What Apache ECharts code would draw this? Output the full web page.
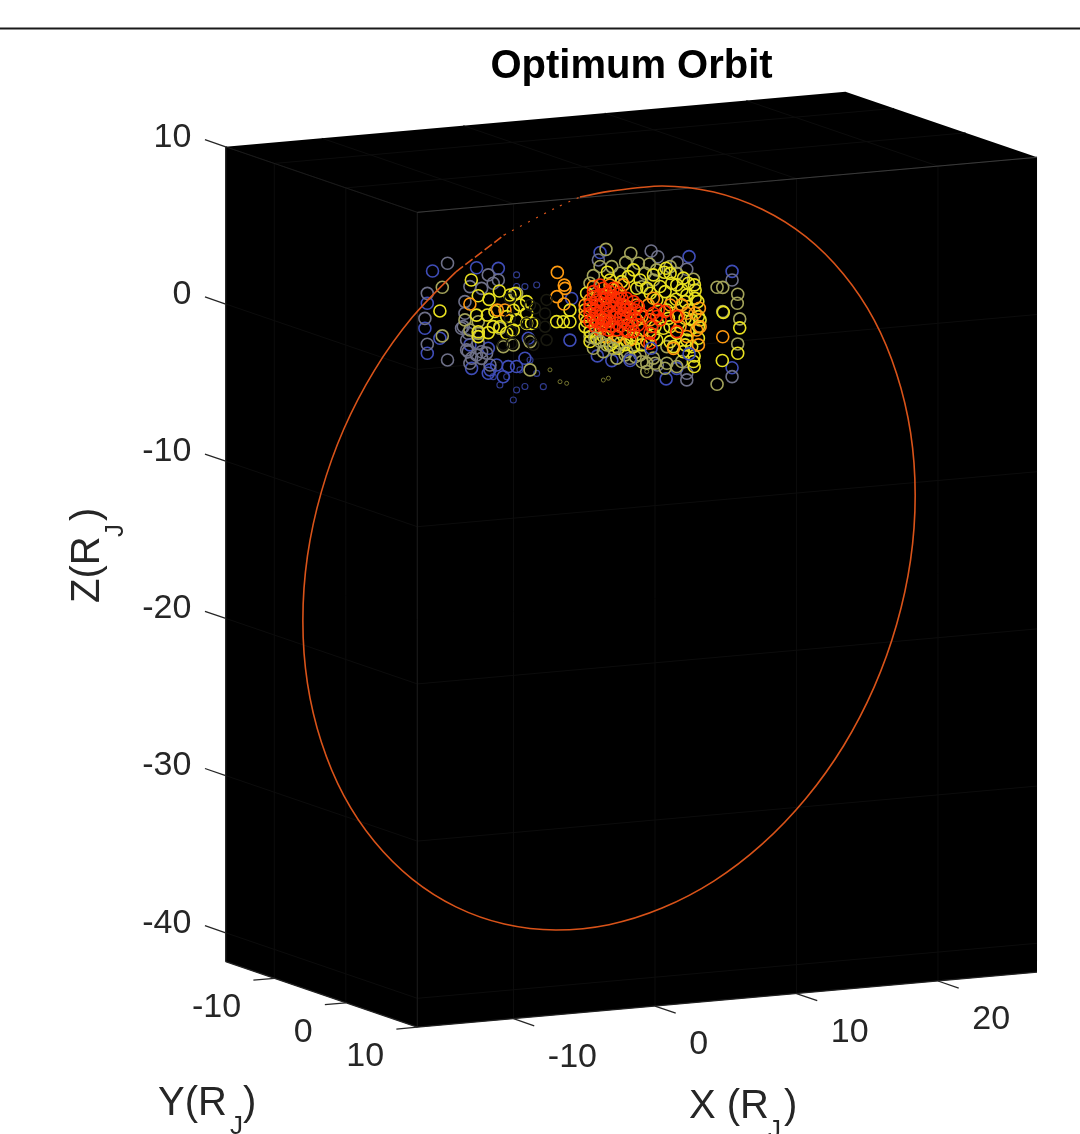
<!DOCTYPE html>
<html><head><meta charset="utf-8">
<style>html,body{margin:0;padding:0;background:#fff}#c{width:1080px;height:1134px}</style>
<script src="https://cdn.jsdelivr.net/npm/echarts@6/dist/echarts.min.js"></script>
</head><body><div id="c"></div>
<script>
// Axis limits and ticks, R_J
const xLim = [-16.8, 27], yLim = [-16.8, 10], zLim = [-41.84, 10];
const xTicks = [-10, 0, 10, 20], yTicks = [-10, 0, 10], zTicks = [10, 0, -10, -20, -30, -40];

// Orbit [X, Y, Z], R_J
const orbit = [[-0.21,-0.08,8.08],[1.5,0.6,8.41],[4.62,1.85,8.7],[7.66,3.06,8.26],[10.5,4.2,7.11],[13.07,5.23,5.32],[15.29,6.12,2.89],[17.09,6.84,-0.06],[18.41,7.36,-3.49],[19.23,7.69,-7.25],[19.5,7.8,-11.24],[19.23,7.69,-15.35],[18.41,7.36,-19.45],[17.09,6.84,-23.39],[15.29,6.12,-27.1],[13.07,5.23,-30.42],[10.5,4.2,-33.28],[7.66,3.06,-35.58],[4.62,1.85,-37.24],[1.5,0.6,-38.24],[-1.62,-0.65,-38.52],[-4.66,-1.86,-38.09],[-7.5,-3,-36.95],[-10.07,-4.03,-35.14],[-12.29,-4.92,-32.71],[-14.09,-5.64,-29.76],[-15.41,-6.16,-26.34],[-16.23,-6.49,-22.57],[-16.5,-6.6,-18.58],[-16.23,-6.49,-14.47],[-15.41,-6.16,-10.39],[-14.09,-5.64,-6.43],[-12.29,-4.92,-2.73],[-10.07,-4.03,0.6],[-7.5,-3,3.45]];
const orbitBroken = [[-7.5,-3,3.45],[-4.66,-1.86,5.75]];
const orbitFaint = [[-4.66,-1.86,5.75],[-1.62,-0.65,7.42],[-0.21,-0.08,8.08]];

// Belt samples [X, Z] in R_J at Y = 0, grouped by intensity
const blueRings = [[1.17,4.45],[7.46,3.69],[10.5,2.51],[10.5,-3.62],[2,-2.49],[0.98,-2.11],[5.84,-3.96],[6.59,-3.35],[-10.67,4.22],[-11.04,2.2],[-11.21,0.62],[-11.04,-0.98],[-7.56,4.18],[-6.02,4.02],[-6.73,-2.6],[-7.91,-2.19],[-6.14,-2.12],[-5.32,-2.29],[-3.9,-0.6],[-8.03,-0.69],[-10.15,-0.1],[-0.84,1.69],[-0.96,-0.95],[-6.73,-1.01],[-5.67,-2.9],[-4.73,-2.33],[-4.14,-1.85],[-6.61,-2.39]];
const grayRings = [[1.05,3.99],[4.78,4.26],[5.25,3.86],[6.61,3.39],[7.3,2.9],[10.5,1.96],[10.5,-4.19],[5.22,-3.03],[7.3,-3.72],[7.3,-4.14],[3.29,-2.44],[-9.61,4.63],[-11.04,2.83],[-11.21,1.25],[-11.04,-0.41],[-9.61,-1.52],[-6.73,3.66],[-6.38,3.1],[-7.2,2.84],[-8.03,3.02],[-8.03,-1.86],[-7.2,-1.19],[-8.26,-0.36],[-8.5,0.51],[-8.38,2.09],[-7.44,-0.64],[-7.56,-1.37],[-8.15,-1.11],[-6.85,-1.31],[-8.38,1.35],[-8.62,0.42],[-8.15,0.06],[-8.26,-0.99],[-7.91,-1.55],[-7.2,-1.61],[-6.61,-2.08],[-6.02,3.28]];
const oliveRings = [[1.59,4.62],[1.17,3.56],[2,3.49],[0.7,3.02],[3.34,4.23],[2.98,3.68],[4.66,3.44],[4.35,2.87],[4.94,2.4],[6.59,2.69],[7.77,2.22],[10.9,1.02],[10.87,0.45],[11.04,-0.56],[10.9,-2.14],[9.44,1.58],[9.84,1.54],[9.44,-4.59],[9.84,0],[0.46,-0.84],[0.7,-1.6],[2.58,-1.43],[2.94,-2.2],[3.65,-2.37],[4.12,-2.73],[4.47,-2.85],[4.47,-3.38],[4.94,-2.57],[5.89,-2.97],[6.59,-3.23],[5.89,-1.91],[4.12,2.04],[0.46,2.55],[-9.98,3.13],[-9.98,0.04],[-8.38,0.93],[-7.44,0],[-8.03,0.26],[-7.44,0.74],[-4.73,2.33],[-5.91,0.2],[-4.96,-0.94],[-3.78,-0.82],[-5.67,-0.99],[2.58,3.02],[3.88,3.55],[5.17,3.03],[6.12,3.16],[1.4,-1.87],[2.35,-2.36],[0.81,-0.65],[4,-2.29],[5.06,-2.9],[5.76,-3.28],[6.94,-2.94],[-3.78,-2.62]];
const yellowRings = [[1.69,3.16],[3.53,3.16],[3.17,2.76],[4.94,2.73],[5.84,3.08],[5.7,2.84],[7.06,2.35],[7.84,1.86],[7.89,1.53],[6.24,2.09],[6.95,1.61],[5.77,1.6],[7.3,1.27],[6.54,1.05],[8.08,0.78],[7.42,0.3],[5.89,0.42],[7.82,-2.66],[7.82,-3.33],[8.12,-1.56],[11.04,-1.13],[10.9,-2.73],[9.88,-0.05],[9.81,-3.11],[3.76,1.97],[1.64,1.61],[5.18,1.12],[4.72,1.58],[5.65,-0.72],[5.06,-0.57],[6.59,-1.11],[7.42,-0.97],[8.24,-0.4],[7.3,-1.6],[6.36,-1.95],[7.06,-2.32],[7.65,-2.05],[5.18,-1.43],[3.76,-1.21],[3.05,-1.36],[1.4,-0.91],[0.46,-0.52],[0.22,0.14],[0.11,0.88],[0.22,1.94],[1.88,-1.48],[2.46,-1.74],[0.93,-0.98],[3.53,-1.72],[3.76,-0.04],[3.17,-0.31],[1.64,0.02],[1.05,0.07],[6.12,-0.66],[7.18,-0.21],[4,2.48],[4.47,1.92],[5.41,1.95],[6.12,2.73],[6.59,1.96],[7.41,2],[7.18,0.85],[7.89,1],[6.23,0.92],[6,-0.12],[7.65,-0.35],[8.12,-0.82],[8.12,-0.18],[7.18,-1.9],[6.12,-1.61],[7.77,-3.01],[4.94,-1.09],[4.12,-1.66],[3.41,-1.18],[2.94,-1.56],[2.11,-1.29],[0.46,-1.15],[0.11,-0.18],[2.7,2.48],[1.87,2.65],[-10.15,1.64],[-7.93,3.43],[-7.44,2.39],[-6.68,2.1],[-5.95,2.57],[-5.2,2.26],[-6.8,1.11],[-7.56,1.17],[-6.73,-0.01],[-5.91,0.3],[-4.96,0.01],[-5.43,0.9],[-4.02,1.74],[-7.44,0.1],[-1.9,0.3],[-1.43,0.26],[-0.96,0.22],[-0.96,0.96],[-7.44,-0.21],[-5.43,-0.16],[-6.38,0.34],[-4.02,1],[-4.02,0.36],[-3.67,0.33],[-4.49,1.57],[-6.26,1.29],[-4.96,1.28],[-4.73,0.64],[-4.85,2.33]];
const orangeRings = [[9.84,-1.6],[8.19,0.35],[8.12,-1.98],[0.7,2.33],[2.35,2.09],[6.71,-0.02],[4.58,0.85],[4.94,1.24],[7.3,0.1],[6.82,-0.71],[4.47,-1.47],[6.36,-2.06],[8.24,-0.83],[4.7,-0.11],[0.46,1.5],[3.05,0.86],[3.76,0.91],[1.4,0.15],[3.29,-1.28],[2.35,-0.98],[7.3,-1.38],[7.89,0.05],[8,-1.02],[0.11,1.2],[0.11,0.46],[1.64,-0.93],[4.12,0.14],[4.12,-0.71],[2.82,2.26],[1.87,2.33],[6.12,0.72],[6.94,0.66],[-1.85,3.43],[-1.36,2.58],[-1.88,1.89],[-1.38,1.38],[-8.03,1.91],[-5.55,1.33],[-6.09,1.37],[-1.31,2.37]];
const redRings = [[1.17,2.39],[0.7,1.69],[1.17,1.76],[1.64,1.82],[2.11,1.57],[2.58,1.75],[3.05,1.39],[3.53,1.14],[3.88,0.79],[0.46,1.18],[0.93,1.14],[1.4,1.21],[1.87,1.06],[2.35,1.13],[2.82,0.99],[3.29,0.74],[0.46,0.65],[0.93,0.61],[1.4,0.67],[1.87,0.53],[2.35,0.6],[2.82,0.46],[3.29,0.42],[0.46,0.12],[0.93,0.08],[1.4,-0.07],[1.87,0],[2.35,-0.14],[2.82,-0.07],[3.41,-0.33],[3.88,-0.37],[1.17,-0.47],[1.76,-0.52],[2.35,-0.56],[2.94,-0.62],[3.53,-0.77],[5.29,0.47],[4.94,0.29],[5.41,-0.17],[4.82,-0.55],[6.59,-0.05],[6.59,-1.01],[4.7,-1.6],[5.76,0.33],[0.7,2],[1.4,2.16],[2.11,2.1],[2.7,1.42],[0.81,0.83],[1.64,0.87],[2.58,0.8],[0.7,0.31],[1.52,0.31],[2.23,0.25],[3.05,0.19],[0.95,1.45],[1.52,1.51],[2,1.33],[2.46,1.44],[2.94,0.66],[3.64,0.07],[0.81,-0.23],[1.29,-0.16],[2,-0.33],[2.58,-0.37],[3.17,-0.74],[4,0.36],[1.17,0.38],[2.58,0.23],[5.17,0.06],[4.7,-0.96],[0.46,0.93],[3.64,0.6],[1.87,1.91]];
const darkRings = [[-5.2,2.04],[-5.2,0.77],[-5.08,-0.09],[-3.78,1.51],[-3.43,1.27],[-4.02,0.36],[-3.43,0.31],[-3.78,-0.72],[-2.61,1.74],[-2.72,0.89],[-2.72,0.04],[-2.61,-0.81],[-5.67,-0.88],[-5.08,-0.83],[-3.55,-1.05]];
const topBlue = [[4.78,-1.93],[7.46,-2.5],[3.29,-2.59]];
const topOlive = [[0.81,-0.97],[1.17,-1.21],[1.64,-1.46],[2.11,-1.72],[3.05,-2]];
const smallBlue = [[-4.73,3.5],[-4.14,2.71],[-3.31,2.74],[-4.73,2.76],[-4.14,-3.65],[-4.73,-3.82],[-4.96,-4.44],[-5.43,-2.92],[-4.49,-2.56],[-3.78,-1.99],[-3.31,-2.88],[-2.84,-3.76],[-5.91,-3.41],[-6.38,-2.84]];
const smallOlive = [[-2.37,-2.73],[-1.66,-3.54],[-1.19,-3.68],[1.4,-3.68],[1.76,-3.59],[4.47,-3.38]];

// Text
const titleText = 'Optimum Orbit';

// Projection of the MATLAB-style 3D view onto a view plane (still in R_J)
const proj = (X, Y, Z) => [X + 0.5053 * Y, Z + 0.0799 * X - 0.1555 * Y];
const ring = a => a.map(p => proj(p[0], 0, p[1]));
const FONT = '"Liberation Sans", Arial, Helvetica, sans-serif';

const [x0, x1] = xLim, [y0, y1] = yLim, [z0, z1] = zLim;
const silhouette = [proj(x0,y0,z0), proj(x0,y1,z0), proj(x1,y1,z0), proj(x1,y1,z1), proj(x1,y0,z1), proj(x0,y0,z1)];

const seg = (a, b) => [...proj(...a), ...proj(...b)];
const gridSegs = [], edgeSegs = [], tickSegs = [], brightSegs = [];
zTicks.forEach(z => {
  gridSegs.push(seg([x0,y0,z],[x0,y1,z]), seg([x0,y1,z],[x1,y1,z]));
  tickSegs.push(seg([x0,y0,z],[x0,y0-2.9,z]));
});
yTicks.forEach(y => {
  gridSegs.push(seg([x0,y,z0],[x0,y,z1]), seg([x0,y,z1],[x1,y,z1]));
  tickSegs.push(seg([x0,y,z0],[x0-1.48,y,z0]));
});
xTicks.forEach(x => {
  gridSegs.push(seg([x,y1,z0],[x,y1,z1]), seg([x,y1,z1],[x,y0,z1]));
  tickSegs.push(seg([x,y1,z0],[x,y1+2.9,z0]));
});
edgeSegs.push(seg([x0,y1,z0],[x0,y1,z1]), seg([x0,y0,z1],[x0,y1,z1]));
brightSegs.push(seg([x0,y1,z1],[x1,y1,z1]));
const bottomSegs = [seg([x0,y0,z0],[x0,y1,z0]), seg([x0,y1,z0],[x1,y1,z0]), seg([x0,y0,z0],[x0,y0,z1])];

const labels = [];
zTicks.forEach(z => { const p = proj(x0, y0-4.8, z-0.14); labels.push([p[0],p[1],String(z),'right']); });
xTicks.forEach(x => { const p = proj(x, y1+4.8, z0-1.72); labels.push([p[0],p[1],String(x),'left']); });
yTicks.forEach(y => { const p = proj(x0-2.35, y, z0-1.7); labels.push([p[0],p[1],String(y),'right']); });

const segSeries = (data, color, width) => ({
  type: 'custom', data, silent: true, clip: false, coordinateSystem: 'cartesian2d', animation: false,
  encode: {x: [0,2], y: [1,3]},
  renderItem: (params, api) => {
    const a = api.coord([api.value(0), api.value(1)]), b = api.coord([api.value(2), api.value(3)]);
    return {type: 'line', shape: {x1:a[0], y1:a[1], x2:b[0], y2:b[1]}, style: {stroke: color, lineWidth: width, fill: null}};
  }
});
const ringSeries = (data, color, size, width, opacity) => ({
  type: 'scatter', data: ring(data), symbol: 'circle', symbolSize: size, silent: true, clip: false, animation: false,
  itemStyle: {color: 'rgba(0,0,0,0)', borderColor: color, borderWidth: width, opacity: opacity === undefined ? 1 : opacity}
});
const orbitSeries = (pts, width, type) => ({type:'line', data: pts.map(p => proj(...p)), showSymbol:false, smooth:0.3, silent:true, clip:false, animation:false,
   lineStyle:{color:'#d95319', width, type}});

const series = [
  {type:'custom', data:[0], silent:true, clip:false, animation:false,
   renderItem:(p, api) => ({type:'polygon', shape:{points: silhouette.map(q => api.coord(q))}, style:{fill:'#000'}})},
  segSeries(gridSegs, '#0c0c0c', 1),
  segSeries(edgeSegs, '#1a1a1a', 1),
  segSeries(brightSegs, '#3a3a3a', 1),
  segSeries(bottomSegs, '#222', 1.3),
  segSeries(tickSegs, '#262626', 1.3),
  ringSeries(smallBlue, '#3a46a8', 6, 1.1, 0.85),
  ringSeries(smallOlive, '#8f8f3a', 4, 1, 0.8),
  ringSeries(blueRings, '#3f4db8', 12, 1.6),
  ringSeries(grayRings, '#6e7088', 12, 1.6),
  ringSeries(oliveRings, '#a3a35a', 12, 1.6),
  ringSeries(yellowRings, '#e8e020', 12, 1.6),
  ringSeries(orangeRings, '#ff9a10', 12, 1.6),
  ringSeries(redRings, '#ff2d00', 12, 1.6),
  ringSeries(topOlive, '#a3a35a', 12, 1.6),
  ringSeries(topBlue, '#3f4db8', 12, 1.6),
  ringSeries(darkRings, '#1a1a10', 11, 1.5),
  orbitSeries(orbit, 1.6, 'solid'),
  orbitSeries(orbitBroken, 1.6, [9,3]),
  orbitSeries(orbitFaint, 1.2, [2,7]),
  {type:'custom', data: labels, silent:true, clip:false, animation:false,
   encode:{x:0,y:1},
   renderItem:(p, api) => {
     const c = api.coord([api.value(0), api.value(1)]);
     const l = labels[p.dataIndex];
     return {type:'text', x:c[0], y:c[1], style:{text:l[2], textAlign:l[3], textVerticalAlign:'middle', font:'34px '+FONT, fill:'#262626'}};
   }}
];

const txt = (text, x, y, size, rotation) => ({type:'text', x, y, rotation: rotation||0, silent:true,
  style:{text, font: size+'px '+FONT, fill:'#262626', textAlign:'left', textVerticalAlign:'middle'}});

const chart = echarts.init(document.getElementById('c'), null, {renderer:'canvas'});
chart.setOption({
  animation:false,
  backgroundColor:'#fff',
  title:{text:titleText, left:626.5, top:42, textAlign:'center', textStyle:{fontFamily:FONT, fontWeight:'bold', fontSize:40, color:'#000'}},
  grid:{left:0,right:0,top:0,bottom:0,containLabel:false},
  xAxis:{type:'value', min:-41.24, max:35.09, show:false},
  yAxis:{type:'value', min:-51.53, max:20.61, show:false},
  series,
  graphic:{elements:[
    {type:'line', shape:{x1:0,y1:28.5,x2:1080,y2:28.5}, style:{stroke:'#1a1a1a',lineWidth:2}, silent:true},
    txt('Y(R',158,1104,40), txt('J',230,1127,26), txt(')',243,1104,40),
    txt('X (R',689,1107,40), txt('J',768,1131,26), txt(')',784,1107,40),
    txt('Z(R',88,603,40,Math.PI/2), txt('J',116,537,26,Math.PI/2), txt(')',88,521,40,Math.PI/2)
  ]}
});
</script></body></html>
